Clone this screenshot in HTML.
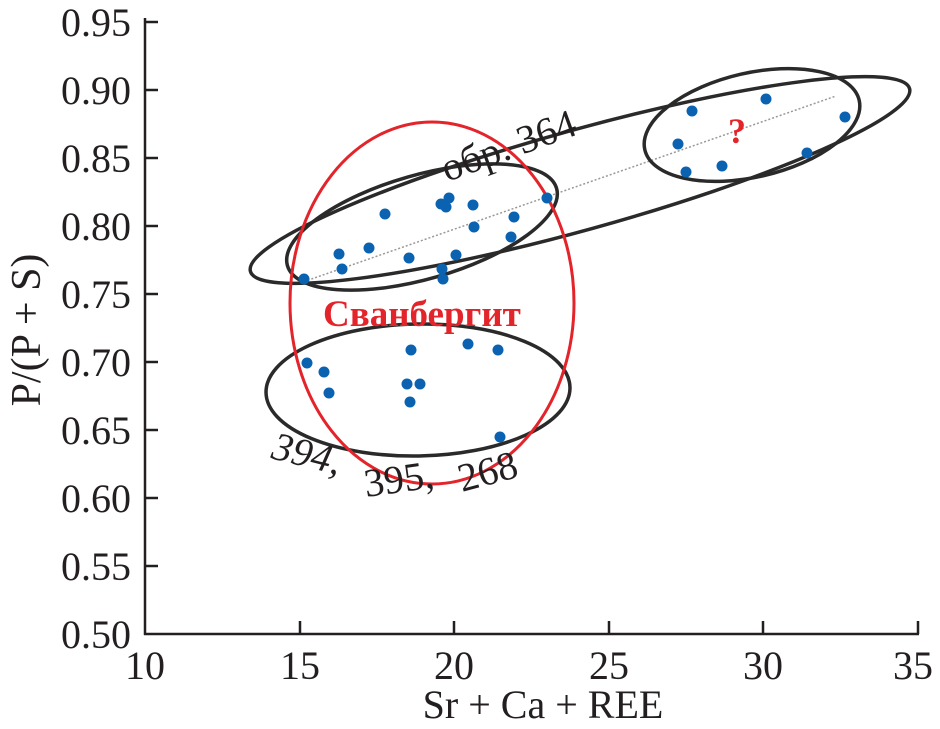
<!DOCTYPE html>
<html><head><meta charset="utf-8"><style>
html,body{margin:0;padding:0;background:#fff}
svg{display:block}
text{font-family:"Liberation Serif","DejaVu Serif",serif;fill:#231f20}
</style></head><body>
<svg width="940" height="729" viewBox="0 0 940 729" xmlns="http://www.w3.org/2000/svg">
<g stroke="#231f20" stroke-width="2.5" fill="none">
<line x1="145" y1="18" x2="145" y2="635"/>
<line x1="144" y1="634" x2="919" y2="634"/>
<line x1="145" y1="22" x2="158" y2="22"/><line x1="145" y1="90" x2="158" y2="90"/>
<line x1="145" y1="158" x2="158" y2="158"/><line x1="145" y1="226" x2="158" y2="226"/>
<line x1="145" y1="294" x2="158" y2="294"/><line x1="145" y1="362" x2="158" y2="362"/>
<line x1="145" y1="430" x2="158" y2="430"/><line x1="145" y1="498" x2="158" y2="498"/>
<line x1="145" y1="566" x2="158" y2="566"/>
<line x1="300" y1="634" x2="300" y2="621"/><line x1="454" y1="634" x2="454" y2="621"/>
<line x1="609" y1="634" x2="609" y2="621"/><line x1="763" y1="634" x2="763" y2="621"/>
<line x1="918" y1="634" x2="918" y2="621"/>
</g>
<g font-size="40" text-anchor="end">
<text x="131" y="36">0.95</text><text x="131" y="104">0.90</text><text x="131" y="172">0.85</text>
<text x="131" y="240">0.80</text><text x="131" y="308">0.75</text><text x="131" y="376">0.70</text>
<text x="131" y="444">0.65</text><text x="131" y="512">0.60</text><text x="131" y="580">0.55</text>
<text x="131" y="648">0.50</text>
</g>
<g font-size="40" text-anchor="middle">
<text x="145" y="679">10</text><text x="300" y="679">15</text><text x="454" y="679">20</text>
<text x="609" y="679">25</text><text x="763" y="679">30</text><text x="913" y="679">35</text>
<text x="543" y="718">Sr + Ca + REE</text>
<text font-size="42" transform="translate(40,330) rotate(-90)">P/(P + S)</text>
</g>
<line x1="300" y1="283" x2="836" y2="96" stroke="#999" stroke-width="1.5" stroke-dasharray="2,2"/>
<g fill="none" stroke="#2a2a2a" stroke-width="3.5">
<ellipse cx="580" cy="180" rx="342" ry="50" transform="rotate(-15.5 580 180)"/>
<ellipse cx="422" cy="227" rx="140" ry="52" transform="rotate(-16 422 227)"/>
<ellipse cx="752" cy="125" rx="110" ry="52" transform="rotate(-13 752 125)"/>
<ellipse cx="418" cy="390" rx="152" ry="66" transform="rotate(-1 418 390)"/>
</g>
<ellipse cx="432" cy="303" rx="142" ry="181" fill="none" stroke="#e3242b" stroke-width="3"/>
<g fill="#0b62b0">
<circle cx="304" cy="279" r="5.5"/><circle cx="339" cy="254" r="5.5"/><circle cx="342" cy="269" r="5.5"/>
<circle cx="369" cy="248" r="5.5"/><circle cx="385" cy="214" r="5.5"/><circle cx="409" cy="258" r="5.5"/>
<circle cx="441" cy="204" r="5.5"/><circle cx="446" cy="207" r="5.5"/><circle cx="449" cy="198" r="5.5"/>
<circle cx="473" cy="205" r="5.5"/><circle cx="474" cy="227" r="5.5"/><circle cx="514" cy="217" r="5.5"/>
<circle cx="511" cy="237" r="5.5"/><circle cx="547" cy="198" r="5.5"/><circle cx="456" cy="255" r="5.5"/>
<circle cx="442" cy="269" r="5.5"/><circle cx="443" cy="279" r="5.5"/>
<circle cx="411" cy="350" r="5.5"/><circle cx="468" cy="344" r="5.5"/><circle cx="498" cy="350" r="5.5"/>
<circle cx="307" cy="363" r="5.5"/><circle cx="324" cy="372" r="5.5"/><circle cx="329" cy="393" r="5.5"/>
<circle cx="407" cy="384" r="5.5"/><circle cx="420" cy="384" r="5.5"/><circle cx="410" cy="402" r="5.5"/>
<circle cx="500" cy="437" r="5.5"/>
<circle cx="692" cy="111" r="5.5"/><circle cx="766" cy="99" r="5.5"/><circle cx="845" cy="117" r="5.5"/>
<circle cx="678" cy="144" r="5.5"/><circle cx="686" cy="172" r="5.5"/><circle cx="722" cy="166" r="5.5"/>
<circle cx="807" cy="153" r="5.5"/>
</g>
<text x="447" y="182" font-size="40" transform="rotate(-20 447 182)">обр. 364</text>
<text x="728" y="143" font-size="36" font-weight="bold" style="fill:#e3242b">?</text>
<text x="323" y="326" font-size="37" font-weight="bold" style="fill:#e3242b">Сванбергит</text>
<text x="270" y="458" font-size="40" font-style="italic" transform="rotate(14 270 458)">394,</text>
<text x="366" y="497" font-size="40" transform="rotate(-8 366 497)">395,</text>
<text x="462" y="492" font-size="40" transform="rotate(-15 462 492)">268</text>
</svg>
</body></html>
